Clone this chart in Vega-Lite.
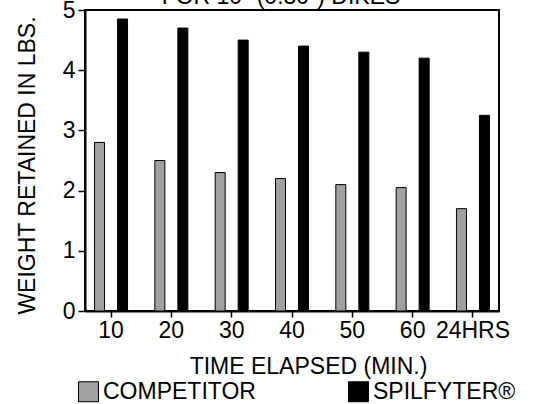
{
  "$schema": "https://vega.github.io/schema/vega-lite/v6.json",
  "width": 414,
  "height": 301,
  "autosize": {"type": "none"},
  "padding": {"left": 85, "top": 10, "right": 36, "bottom": 93},
  "background": "white",
  "config": {
    "font": "Liberation Sans",
    "view": {"stroke": "black", "strokeWidth": 2},
    "title": {"dy": 23, "offset": -10},
    "axis": {
      "grid": false,
      "domainColor": "black",
      "domainWidth": 2,
      "tickColor": "black",
      "tickWidth": 1.5,
      "labelColor": "black",
      "titleColor": "black",
      "labelFontSize": 23,
      "titleFontSize": 23,
      "titleFontWeight": "normal"
    }
  },
  "title": {
    "text": "FOR 10\" (0.30\") DIKES",
    "fontSize": 23,
    "fontWeight": "normal",
    "color": "black",
    "frame": "group",
    "baseline": "bottom",
    "dx": -11
  },
  "data": {
    "values": [
      {"time": "10", "product": "COMPETITOR", "weight": 2.8},
      {"time": "20", "product": "COMPETITOR", "weight": 2.5},
      {"time": "30", "product": "COMPETITOR", "weight": 2.3},
      {"time": "40", "product": "COMPETITOR", "weight": 2.2},
      {"time": "50", "product": "COMPETITOR", "weight": 2.1},
      {"time": "60", "product": "COMPETITOR", "weight": 2.05},
      {"time": "24HRS", "product": "COMPETITOR", "weight": 1.7},
      {"time": "10", "product": "SPILFYTER®", "weight": 4.85},
      {"time": "20", "product": "SPILFYTER®", "weight": 4.7},
      {"time": "30", "product": "SPILFYTER®", "weight": 4.5},
      {"time": "40", "product": "SPILFYTER®", "weight": 4.4},
      {"time": "50", "product": "SPILFYTER®", "weight": 4.3},
      {"time": "60", "product": "SPILFYTER®", "weight": 4.2},
      {"time": "24HRS", "product": "SPILFYTER®", "weight": 3.25}
    ]
  },
  "mark": {"type": "bar", "stroke": "black", "strokeWidth": 1},
  "encoding": {
    "x": {
      "field": "time",
      "type": "nominal",
      "sort": ["10", "20", "30", "40", "50", "60", "24HRS"],
      "scale": {"paddingInner": 0.237, "paddingOuter": 0.05},
      "axis": {
        "labelAngle": 0,
        "tickSize": 6,
        "labelPadding": 2,
        "title": "TIME ELAPSED (MIN.)",
        "titlePadding": 13,
        "titleX": 223
      }
    },
    "xOffset": {
      "field": "product",
      "sort": ["COMPETITOR", "SPILFYTER®"],
      "scale": {"paddingInner": 0.565, "paddingOuter": 0.283}
    },
    "y": {
      "field": "weight",
      "type": "quantitative",
      "scale": {"domain": [0, 5], "nice": false},
      "axis": {
        "values": [0, 1, 2, 3, 4, 5],
        "tickSize": 7,
        "labelPadding": 3,
        "title": "WEIGHT RETAINED IN LBS.",
        "titlePadding": 23,
        "titleY": 155
      }
    },
    "fill": {
      "field": "product",
      "type": "nominal",
      "scale": {"domain": ["COMPETITOR", "SPILFYTER®"], "range": ["#a0a0a0", "#000000"]},
      "legend": {
        "title": null,
        "orient": "none",
        "legendX": -8,
        "legendY": 370,
        "direction": "horizontal",
        "columns": 2,
        "columnPadding": 90,
        "symbolType": "square",
        "symbolSize": 400,
        "symbolStrokeColor": "black",
        "symbolStrokeWidth": 1,
        "labelFontSize": 23,
        "labelColor": "black",
        "labelOffset": 3,
        "labelLimit": 300
      }
    }
  }
}
